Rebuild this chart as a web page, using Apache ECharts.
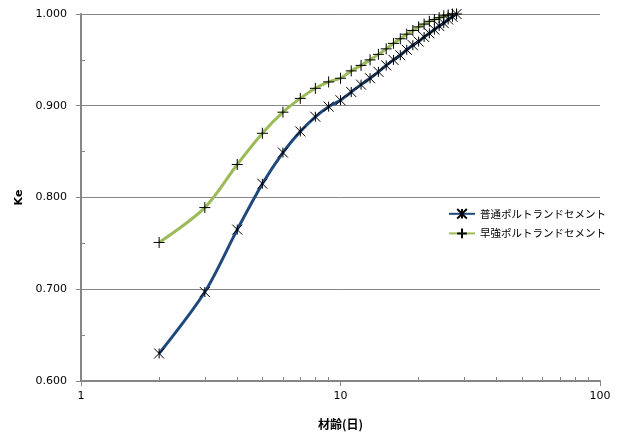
<!DOCTYPE html>
<html>
<head>
<meta charset="utf-8">
<script src="https://cdn.jsdelivr.net/npm/echarts@6/dist/echarts.min.js"></script>
<style>
html,body{margin:0;padding:0;background:#fff;}
#c{width:625px;height:442px;}
</style>
</head>
<body>
<div id="c"></div>
<script>
// Data
const ages = [2,3,4,5,6,7,8,9,10,11,12,13,14,15,16,17,18,19,20,21,22,23,24,25,26,27,28];
const ordinary = [0.630,0.697,0.765,0.815,0.849,0.872,0.888,0.899,0.906,0.915,0.923,0.930,0.937,0.944,0.950,0.955,0.961,0.966,0.970,0.975,0.979,0.983,0.987,0.990,0.994,0.997,1.000];
const early = [0.751,0.789,0.836,0.870,0.893,0.908,0.919,0.926,0.930,0.938,0.944,0.950,0.956,0.962,0.968,0.973,0.978,0.982,0.986,0.989,0.992,0.994,0.996,0.998,0.999,1.000,1.000];
const seriesNames = ['普通ポルトランドセメント','早強ポルトランドセメント'];
const xMinorTicks = [2,3,4,5,6,7,8,9,20,30,40,50,60,70,80,90];
const yMinorTicks = [0.65,0.75,0.85,0.95];
const yAxisName = 'Ke';
const xAxisName = '材齢(日)';

const starPath = 'path://M0 0L10 10M10 0L0 10M5 0L5 10';
const plusPath = 'path://M5 0L5 10M0 5L10 5';
const font = '"DejaVu Sans", Verdana, sans-serif';
const cjk = '"Noto Sans CJK JP", sans-serif';
const axisGray = '#868686';
const gridBox = {left:81, right:25, top:14, bottom:61, containLabel:false};

const chart = echarts.init(document.getElementById('c'), null, {renderer:'canvas'});
chart.setOption({
  animation:false,
  backgroundColor:'#fff',
  grid:[Object.assign({}, gridBox), Object.assign({}, gridBox)],
  legend:{
    orient:'vertical', left:443, top:203, itemGap:8, itemWidth:26, itemHeight:12,
    textStyle:{fontFamily:cjk, fontSize:10.5, color:'#000'},
    data: seriesNames
  },
  xAxis:[{
    gridIndex:0, type:'log', logBase:10, min:1, max:100,
    name:xAxisName, nameLocation:'middle', nameGap:37, nameMoveOverlap:false,
    nameTextStyle:{fontFamily:cjk, fontWeight:'bold', fontSize:12, color:'#000'},
    axisLine:{show:true, lineStyle:{color:axisGray, width:2}},
    axisTick:{show:true, length:5, lineStyle:{color:axisGray, width:1}},
    axisLabel:{fontFamily:font, fontSize:11, color:'#000', margin:10},
    splitLine:{show:false},
    minorTick:{show:false}
  },{
    gridIndex:1, type:'log', logBase:10, min:1, max:100, position:'bottom',
    axisLine:{show:false},
    axisLabel:{show:false},
    axisTick:{show:true, inside:true, length:4, customValues:xMinorTicks, lineStyle:{color:axisGray, width:1}},
    splitLine:{show:false}
  }],
  yAxis:[{
    gridIndex:0, type:'value', min:0.6, max:1.0, interval:0.1,
    name:yAxisName, nameLocation:'middle', nameGap:56, nameRotate:90, nameMoveOverlap:false,
    nameTextStyle:{fontFamily:font, fontWeight:'bold', fontSize:11, color:'#000'},
    axisLine:{show:true, lineStyle:{color:axisGray, width:2}},
    axisTick:{show:true, length:5, lineStyle:{color:axisGray, width:1}},
    axisLabel:{fontFamily:font, fontSize:11, color:'#000', margin:14, formatter:v=>v.toFixed(3)},
    splitLine:{show:true, lineStyle:{color:axisGray, width:1}}
  },{
    gridIndex:1, type:'value', min:0.6, max:1.0, interval:0.1, position:'left',
    axisLine:{show:false},
    axisLabel:{show:false},
    axisTick:{show:true, inside:true, length:4, customValues:yMinorTicks, lineStyle:{color:axisGray, width:1}},
    splitLine:{show:false}
  }],
  series:[{
    name:seriesNames[0], type:'line', xAxisIndex:0, yAxisIndex:0,
    data: ages.map((a,i)=>[a, ordinary[i]]),
    smooth:0.3, symbol:starPath, symbolSize:10,
    lineStyle:{color:'#1F497D', width:3},
    itemStyle:{color:'#1F497D', borderColor:'#000', borderWidth:1},
    z:3
  },{
    name:seriesNames[1], type:'line', xAxisIndex:0, yAxisIndex:0,
    data: ages.map((a,i)=>[a, early[i]]),
    smooth:0.3, symbol:plusPath, symbolSize:11,
    lineStyle:{color:'#9BBB59', width:3},
    itemStyle:{color:'#9BBB59', borderColor:'#000', borderWidth:1},
    z:2
  }]
});
</script>
</body>
</html>
